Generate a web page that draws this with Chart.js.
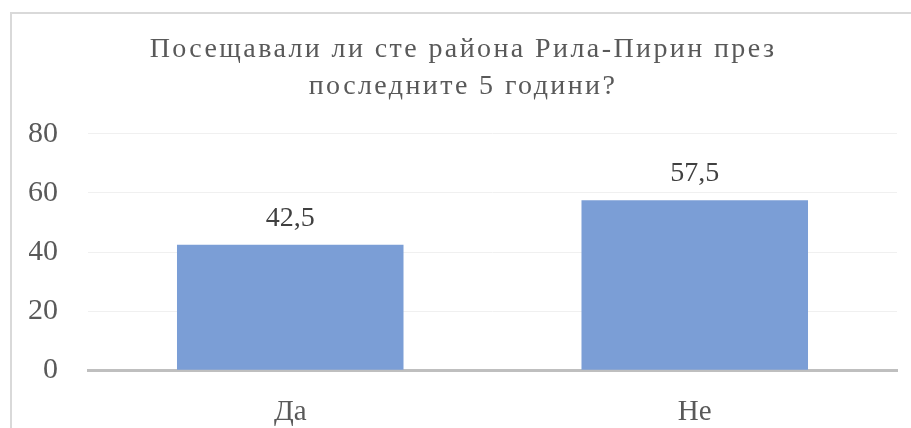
<!DOCTYPE html>
<html>
<head>
<meta charset="utf-8">
<script src="https://cdn.jsdelivr.net/npm/chart.js@4.4.1/dist/chart.umd.min.js"></script>
<style>
  body { margin: 0; background: #fff; overflow: hidden; }
  #frame {
    position: absolute; left: 10px; top: 12px; width: 950px; height: 450px;
    border-left: 2px solid #d9d9d9; border-top: 2px solid #d9d9d9;
  }
  #wrap { position: absolute; left: 0; top: 0; width: 911px; height: 428px; }
  canvas { display: block; }
</style>
</head>
<body>
<div id="frame"></div>
<div id="wrap"><canvas id="chart" width="911" height="428"></canvas></div>
<script>
// Данни
const categories = ["Да", "Не"];
const values = [42.5, 57.5];
const yTicks = [0, 20, 40, 60, 80];
const titleLines = ["Посещавали ли сте района Рила-Пирин през", "последните 5 години?"];

const serif = "'Liberation Serif', 'Times New Roman', serif";
const textColor = "#595959";

// Етикети над колоните, с десетична запетая
const valueLabels = {
    id: "valueLabels",
    afterDatasetsDraw(chart) {
        const ctx = chart.ctx;
        const meta = chart.getDatasetMeta(0);
        ctx.save();
        ctx.font = "28px " + serif;
        ctx.fillStyle = "#404040";
        ctx.textAlign = "center";
        ctx.textBaseline = "alphabetic";
        meta.data.forEach((bar, i) => {
            const txt = String(values[i]).replace(".", ",");
            ctx.fillText(txt, bar.x, bar.y - 19);
        });
        ctx.restore();
    }
};

const chart = new Chart(document.getElementById("chart"), {
    type: "bar",
    plugins: [valueLabels],
    data: {
        labels: categories,
        datasets: [{
            data: values,
            backgroundColor: "#7b9ed6",
            barPercentage: 0.56,
            categoryPercentage: 1,
        }],
    },
    options: {
        responsive: false,
        animation: false,
        layout: { padding: { left: 29, right: 14, top: 0, bottom: -27 } },
        plugins: {
            legend: { display: false },
            tooltip: { enabled: false },
            title: {
                display: true,
                text: titleLines,
                color: textColor,
                font: { family: serif, size: 28, weight: "normal", lineHeight: 1.32 },
                padding: { top: 31, bottom: 29 },
            },
        },
        scales: {
            x: {
                grid: { display: false, drawTicks: false },
                border: { color: "#bfbfbf", width: 3 },
                ticks: { color: textColor, font: { family: serif, size: 29 }, padding: 25 },
            },
            y: {
                min: 0,
                max: 80,
                afterBuildTicks: (axis) => { axis.ticks = yTicks.map(v => ({ value: v })); },
                afterFit: (axis) => { axis.width = 59; },
                grid: { color: "#f0f0f0", lineWidth: 1, drawTicks: false },
                border: { display: false },
                ticks: { color: textColor, font: { family: serif, size: 30 }, padding: 30 },
            },
        },
    },
});

// разредено заглавие, както в Excel
const origTitleDraw = chart.titleBlock.draw;
chart.titleBlock.draw = function (area) {
    this.ctx.letterSpacing = "2.4px";
    origTitleDraw.call(this, area);
    this.ctx.letterSpacing = "0px";
};
chart.draw();
</script>
</body>
</html>
